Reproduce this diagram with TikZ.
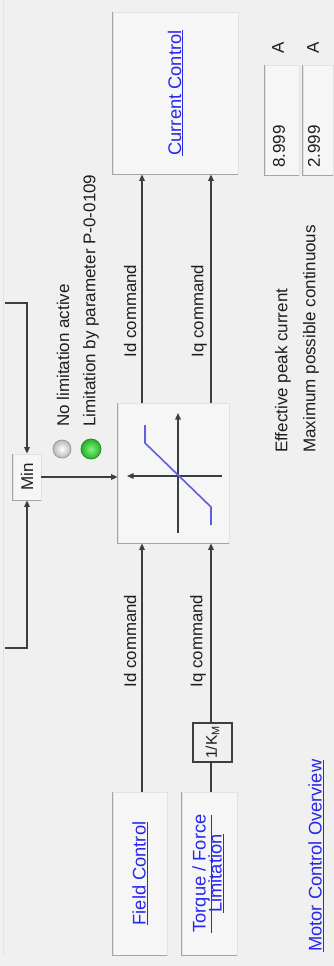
\documentclass[tikz,border=0pt]{standalone}
\usepackage{fontspec}
\setmainfont{Liberation Sans}
\usetikzlibrary{arrows.meta}
\definecolor{bg}{RGB}{240,240,240}
\definecolor{boxfill}{RGB}{246,246,246}
\definecolor{boxedge}{RGB}{165,165,165}
\definecolor{boxlight}{RGB}{226,226,226}
\definecolor{linec}{RGB}{62,62,62}
\definecolor{linkblue}{RGB}{40,40,235}
\definecolor{curveblue}{RGB}{95,95,225}
\definecolor{txt}{RGB}{30,30,30}
\tikzset{
  panel/.style={draw=boxlight, fill=boxfill, line width=0.8pt, inner sep=0pt},
  sunk/.style={draw=boxedge, line width=1.2pt},
  arr/.style={draw=linec, line width=1.6pt, -{Triangle[length=6.5pt,width=5.5pt]}},
  plain/.style={draw=linec, line width=1.6pt},
  lbl/.style={rotate=90, font=\fontsize{17}{20}\selectfont, text=txt, inner sep=0pt},
  cmd/.style={rotate=90, font=\fontsize{16.8}{20}\selectfont, text=txt, inner sep=0pt},
  link/.style={text=linkblue, font=\fontsize{18.3}{17}\selectfont},
}
\begin{document}
\begin{tikzpicture}[x=1pt,y=-1pt]
\useasboundingbox (0,0) rectangle (334,966);
\fill[bg] (0,0) rectangle (334,966);
\draw[boxlight, line width=1pt] (3,0) -- (3,955);

% boxes
\node[panel, minimum width=125pt, minimum height=162pt, link] (cc) at (175.5,93) {\rotatebox{90}{\underline{Current Control}}};
\node[panel, minimum width=111pt, minimum height=140pt] (graph) at (173.5,473) {};
\node[panel, minimum width=54pt, minimum height=163pt, link] (fc) at (140,873.5) {\rotatebox{90}{\underline{Field Control}}};
\node[panel, minimum width=55pt, minimum height=163pt, link] (tf) at (209.5,873.5) {\rotatebox{90}{\begin{tabular}{@{}c@{}}\underline{Torque / Force}\\[-3pt]\underline{Limitation}\end{tabular}}};
\node[panel, minimum width=28pt, minimum height=46pt, font=\fontsize{17}{20}\selectfont, text=txt] (min) at (27,477) {\rotatebox{90}{Min}};
\node[draw=linec, line width=1.2pt, fill=bg, minimum width=39pt, minimum height=39pt, inner sep=0pt, font=\fontsize{15.5}{17}\selectfont, text=txt] (km) at (212.5,742.5) {\rotatebox{90}{1/K\textsubscript{M}}};
\node[panel, minimum width=34pt, minimum height=110pt] (f1) at (282,120) {};
\node[panel, minimum width=30pt, minimum height=110pt] (f2) at (318,120) {};

% sunken edges
\foreach \b in {cc,graph,fc,tf,f1,f2}
  \draw[sunk] (\b.north west) -- (\b.south west) -- (\b.south east);
\draw[boxedge, line width=0.8pt] (min.north west) -- (min.south west) -- (min.south east);

% columns
\coordinate (dcol) at (142,0);
\coordinate (qcol) at (211,0);

% connectors
\draw[arr] (graph.north -| dcol) -- (cc.south -| dcol);
\draw[arr] (graph.north -| qcol) -- (cc.south -| qcol);
\draw[arr] (fc.north -| dcol) -- (graph.south -| dcol);
\draw[plain] (tf.north -| qcol) -- (km.south -| qcol);
\draw[arr] (km.north -| qcol) -- (graph.south -| qcol);

\coordinate (topin) at (5,303);
\coordinate (botin) at (5,648);
\draw[arr] (topin) -- (topin -| min) -- (min.north);
\draw[arr] (botin) -- (botin -| min) -- (min.south);
\draw[arr] (min.east) -- (min.east -| graph.west);

% graph icon
\draw[arr, line width=1.3pt] (178,533) -- (178,413);
\draw[arr, line width=1.3pt] (222,476) -- (127,476);
\draw[curveblue, line width=1.6pt] (145,425) -- (145,443) -- (211,507) -- (211,525);

% labels
\node[cmd] (idup) at (130,311) {Id command};
\node[cmd] (iqup) at (199,311) {Iq command};
\node[cmd] (iddn) at (130,641) {Id command};
\node[cmd] (iqdn) at (198,641) {Iq command};

% status
\node[circle, minimum size=18pt, inner sep=0pt, draw=gray!80, line width=0.8pt, inner color=white, outer color=gray!55] (led1) at (62,449) {};
\node[circle, minimum size=20pt, inner sep=0pt, draw={rgb,255:red,40;green,140;blue,40}, line width=0.8pt, inner color={rgb,255:red,130;green,245;blue,130}, outer color={rgb,255:red,40;green,175;blue,40}] (led2) at (91,449) {};
\node[lbl, anchor=west] (nolim) at (63,427) {No limitation active};
\node[lbl, anchor=west] (lim) at (91,427) {Limitation by parameter P-0-0109};

% values
\node[lbl, anchor=west] (ep) at (283,453) {Effective peak current};
\node[lbl, anchor=west] (mc) at (311,453) {Maximum possible continuous};
\node[lbl, anchor=west] (v1) at (279,168) {8.999};
\node[lbl, anchor=west] (v2) at (314,168) {2.999};
\node[lbl] (ua) at (278,48) {A};
\node[lbl] (ub) at (313,48) {A};

\node[lbl, link, anchor=west] (mco) at (316,952) {\underline{Motor Control Overview}};
\end{tikzpicture}
\end{document}
